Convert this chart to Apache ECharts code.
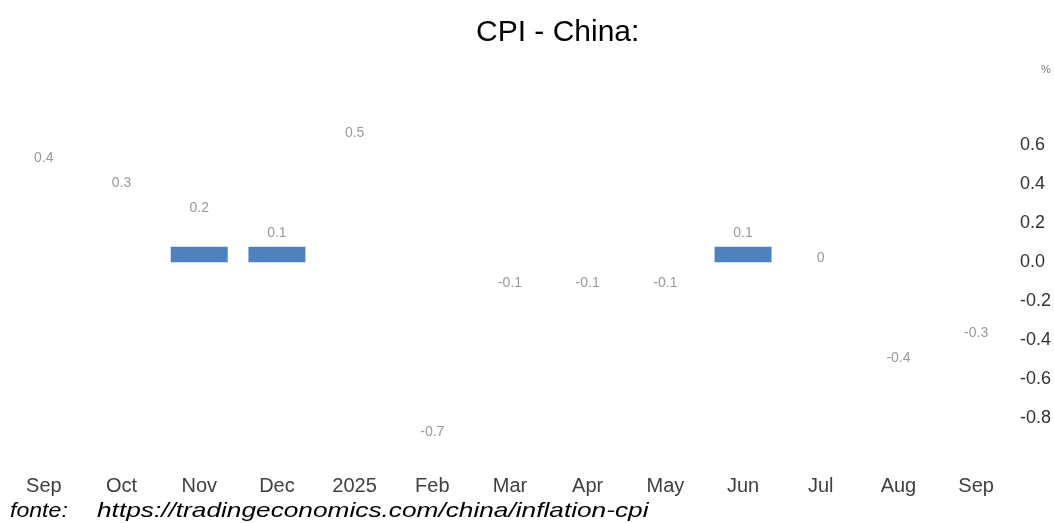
<!DOCTYPE html>
<html>
<head>
<meta charset="utf-8">
<style>
  html, body { margin: 0; padding: 0; background: #ffffff; }
  #chart { width: 1054px; height: 523px; }
</style>
<script src="https://cdn.jsdelivr.net/npm/echarts@6/dist/echarts.min.js"></script>
</head>
<body>
<div id="chart"></div>
<script>
// Monthly CPI change, China (%)
const months = ['Sep', 'Oct', 'Nov', 'Dec', '2025', 'Feb', 'Mar', 'Apr', 'May', 'Jun', 'Jul', 'Aug', 'Sep'];
const cpiValues = [0.4, 0.3, 0.2, 0.1, 0.5, -0.7, -0.1, -0.1, -0.1, 0.1, 0, -0.4, -0.3];
// Small filled columns shown for three of the months (right-hand axis)
const columnValues = [null, null, 0.08, 0.08, null, null, null, null, null, 0.08, null, null, null];
const axisTicks = [-0.8, -0.6, -0.4, -0.2, 0.0, 0.2, 0.4, 0.6];

const FONT = '"Liberation Sans", Arial, sans-serif';

const chart = echarts.init(document.getElementById('chart'), null, { renderer: 'canvas' });

chart.setOption({
  animation: false,
  backgroundColor: '#ffffff',
  title: {
    text: 'CPI - China:',
    left: 471,
    top: 13,
    textStyle: { fontFamily: FONT, fontSize: 30, fontWeight: 'normal', color: '#000000' }
  },
  grid: { left: 5, right: 36, top: 83, bottom: 53, containLabel: false },
  xAxis: {
    type: 'category',
    data: months,
    boundaryGap: true,
    axisLine: { show: false },
    axisTick: { show: false },
    splitLine: { show: false },
    axisLabel: {
      interval: 0,
      margin: 6,
      fontFamily: FONT,
      fontSize: 20,
      color: '#404040'
    }
  },
  yAxis: [
    {
      type: 'value',
      min: -0.85,
      max: 0.70,
      show: false
    },
    {
      type: 'value',
      position: 'right',
      min: -1.066,
      max: 0.92,
      name: '%',
      nameLocation: 'end',
      nameGap: 8,
      nameTextStyle: { fontFamily: FONT, fontSize: 11, color: '#808080', align: 'left', padding: [0, 0, 0, 26] },
      axisLine: { show: false },
      axisTick: { show: false },
      splitLine: { show: false },
      axisLabel: {
        customValues: axisTicks,
        margin: 5,
        fontFamily: FONT,
        fontSize: 18,
        color: '#333333',
        formatter: function (v) { return (Math.abs(v) < 1e-9 ? 0 : v).toFixed(1); }
      }
    }
  ],
  series: [
    {
      name: 'columns',
      type: 'bar',
      yAxisIndex: 1,
      data: columnValues,
      barWidth: 57,
      itemStyle: { color: '#4F81BD' },
      silent: true
    },
    {
      name: 'CPI',
      type: 'scatter',
      yAxisIndex: 0,
      data: cpiValues,
      symbolSize: 1,
      itemStyle: { color: 'rgba(0,0,0,0)' },
      silent: true,
      label: {
        show: true,
        position: 'inside',
        fontFamily: FONT,
        fontSize: 14,
        color: '#808080',
        formatter: function (p) { return String(p.value); }
      }
    }
  ],
  graphic: [
    {
      type: 'text',
      left: 10,
      top: 501,
      scaleX: 1.1,
      style: {
        text: 'fonte:',
        font: 'italic 21px ' + FONT,
        fill: '#000000'
      }
    },
    {
      type: 'text',
      left: 97,
      top: 501,
      scaleX: 1.25,
      style: {
        text: 'https://tradingeconomics.com/china/inflation-cpi',
        font: 'italic 21px ' + FONT,
        fill: '#000000'
      }
    }
  ]
});
</script>
</body>
</html>
